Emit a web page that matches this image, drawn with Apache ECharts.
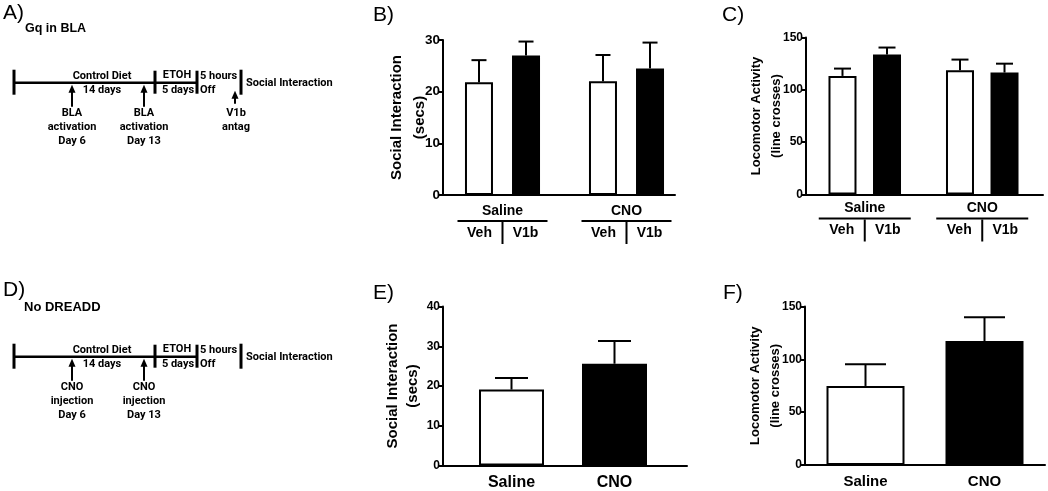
<!DOCTYPE html>
<html>
<head>
<meta charset="utf-8">
<script src="https://cdn.jsdelivr.net/npm/echarts@6/dist/echarts.min.js"></script>
<style>
  html, body { margin: 0; padding: 0; background: #fff; }
  #chart { width: 1048px; height: 491px; }
</style>
</head>
<body>
<div id="chart"></div>
<script>
// Gq in BLA (panels B, C)
const groupLabels = ["Saline", "CNO"];
const treatLabels = ["Veh", "V1b"];
const socialVeh = [21.8, 22.0];
const socialVehSem = [4.3, 5.1];
const socialV1b = [27.0, 24.5];
const socialV1bSem = [2.7, 5.0];
const locoVeh = [113.3, 118.7];
const locoVehSem = [7.0, 10.2];
const locoV1b = [133.7, 116.5];
const locoV1bSem = [6.7, 8.5];

// No DREADD (panels E, F)
const noDreaddGroups = ["Saline", "CNO"];
const noDreaddSocial = [19.1, 25.6];
const noDreaddSocialSem = [2.9, 5.7];
const noDreaddLoco = [74.8, 117.3];
const noDreaddLocoSem = [20.6, 22.6];

// tick labels
const socialTicksB = [0, 10, 20, 30];
const socialTicksE = [0, 10, 20, 30, 40];
const locoTicks = [0, 50, 100, 150];

const FONT = "Liberation Sans, Arial, sans-serif";
const DIAG_FONT = "bold 11px Roboto";

const option = {
  animation: false,
  backgroundColor: "#fff",
  textStyle: { fontFamily: FONT, color: "#000" },
  grid: [],
  xAxis: [],
  yAxis: [],
  series: [],
  graphic: [],
};

function addPanel(p) {
  const gi = option.grid.length;
  option.grid.push({ left: p.left, top: p.top, width: p.width, height: p.height, outerBoundsMode: "none" });
  option.grid.push({ left: p.innerLeft, top: p.top, width: p.innerWidth, height: p.height, outerBoundsMode: "none" });

  const min = p.ticks[0];
  const max = p.ticks[p.ticks.length - 1];
  const interval = p.ticks[1] - p.ticks[0];

  const xi = option.xAxis.length;
  option.xAxis.push({
    gridIndex: gi, type: "value", min: 0, max: 1,
    axisLine: { show: true, onZero: false, lineStyle: { color: "#000", width: 2 } },
    axisTick: { show: false }, axisLabel: { show: false }, splitLine: { show: false },
  });
  option.xAxis.push({
    gridIndex: gi + 1, type: "category", data: p.categories,
    axisLine: { show: false }, axisTick: { show: false }, splitLine: { show: false },
    axisLabel: Object.assign({ interval: 0, color: "#000" }, p.catLabel),
  });

  const yi = option.yAxis.length;
  option.yAxis.push({
    gridIndex: gi, type: "value", min, max, interval,
    name: p.name, nameLocation: "middle", nameRotate: 90, nameGap: p.nameGap, nameMoveOverlap: false,
    nameTextStyle: { fontSize: p.nameFont, fontWeight: "bold", color: "#000", lineHeight: p.nameLine },
    axisLine: { show: true, lineStyle: { color: "#000", width: 2 } },
    axisTick: { show: true, length: 4, lineStyle: { color: "#000", width: 2 } },
    axisLabel: { color: "#000", fontWeight: "bold", fontSize: p.tickFont, margin: 3 },
    splitLine: { show: false },
  });
  option.yAxis.push({ gridIndex: gi + 1, type: "value", min, max, show: false });

  const n = p.bars.length;
  const step = p.barWidth * (1 + parseFloat(p.barGap) / 100);
  p.bars.forEach((b) => {
    option.series.push({
      type: "bar", xAxisIndex: xi + 1, yAxisIndex: yi + 1,
      barWidth: p.barWidth, barGap: p.barGap,
      itemStyle: { borderColor: "#000", borderWidth: 2 },
      data: b.values.map((v, j) => ({ value: v, itemStyle: { color: b.colors[j] } })),
    });
  });
  p.bars.forEach((b, i) => {
    const offset = (i - (n - 1) / 2) * step;
    option.series.push({
      type: "custom", xAxisIndex: xi + 1, yAxisIndex: yi + 1, z: 3,
      encode: { x: 0, y: 1 },
      data: b.values.map((v, j) => [j, v, b.sem[j]]),
      renderItem: (params, api) => {
        const base = api.coord([api.value(0), api.value(1)]);
        const top = api.coord([api.value(0), api.value(1) + api.value(2)]);
        const x = base[0] + offset;
        const h = p.capWidth / 2;
        return {
          type: "group",
          children: [
            { type: "line", shape: { x1: x, y1: base[1], x2: x, y2: top[1] }, style: { stroke: "#000", lineWidth: 2 } },
            { type: "line", shape: { x1: x - h, y1: top[1], x2: x + h, y2: top[1] }, style: { stroke: "#000", lineWidth: 2 } },
          ],
        };
      },
    });
  });
}

function groupedLabel(margin, ruleWidth) {
  return {
    margin,
    formatter: (v) => `{g|${v}}\n{rule| }\n{t|${treatLabels[0]}}{sep| }{t|${treatLabels[1]}}`,
    rich: {
      g: { fontSize: 14, fontWeight: "bold", lineHeight: 18, color: "#000" },
      rule: { width: ruleWidth, height: 2, lineHeight: 2, fontSize: 1, backgroundColor: "#000" },
      t: { fontSize: 14, fontWeight: "bold", width: 44, align: "center", lineHeight: 22, color: "#000" },
      sep: { width: 2, height: 22, lineHeight: 22, fontSize: 1, backgroundColor: "#000" },
    },
  };
}

// B
addPanel({
  left: 443, top: 40, width: 232, height: 155, innerLeft: 440.5, innerWidth: 248,
  ticks: socialTicksB, tickFont: 13.5,
  name: "Social Interaction\n(secs)", nameFont: 15, nameLine: 23, nameGap: 12,
  categories: groupLabels, barWidth: 28, barGap: "68%", capWidth: 15,
  bars: [
    { values: socialVeh, sem: socialVehSem, colors: ["#fff", "#fff"] },
    { values: socialV1b, sem: socialV1bSem, colors: ["#000", "#000"] },
  ],
  catLabel: groupedLabel(7, 90),
});
// C
addPanel({
  left: 806, top: 37.5, width: 237, height: 157, innerLeft: 806, innerWidth: 235,
  ticks: locoTicks, tickFont: 12,
  name: "Locomotor Activity\n(line crosses)", nameFont: 13, nameLine: 20, nameGap: 20,
  categories: groupLabels, barWidth: 28, barGap: "59%", capWidth: 17,
  bars: [
    { values: locoVeh, sem: locoVehSem, colors: ["#fff", "#fff"] },
    { values: locoV1b, sem: locoV1bSem, colors: ["#000", "#000"] },
  ],
  catLabel: groupedLabel(5, 92),
});
// E
addPanel({
  left: 443, top: 306.5, width: 244, height: 159, innerLeft: 460, innerWidth: 206,
  ticks: socialTicksE, tickFont: 12,
  name: "Social Interaction\n(secs)", nameFont: 15, nameLine: 20, nameGap: 20,
  categories: noDreaddGroups, barWidth: 65, barGap: "0%", capWidth: 33,
  bars: [{ values: noDreaddSocial, sem: noDreaddSocialSem, colors: ["#fff", "#000"] }],
  catLabel: { margin: 9, fontSize: 16, fontWeight: "bold" },
});
// F
addPanel({
  left: 805, top: 306.5, width: 240, height: 158.5, innerLeft: 806, innerWidth: 238,
  ticks: locoTicks, tickFont: 12,
  name: "Locomotor Activity\n(line crosses)", nameFont: 13, nameLine: 20, nameGap: 20,
  categories: noDreaddGroups, barWidth: 78, barGap: "0%", capWidth: 41,
  bars: [{ values: noDreaddLoco, sem: noDreaddLocoSem, colors: ["#fff", "#000"] }],
  catLabel: { margin: 9, fontSize: 15, fontWeight: "bold" },
});

// panel letters and titles
function txt(text, x, y, font, align, va) {
  return {
    type: "text",
    style: { text, x, y, font, fill: "#000", align: align || "left", verticalAlign: va || "middle",
      textAlign: align || "left", textVerticalAlign: va || "middle", lineHeight: 14 },
  };
}
function seg(x1, y1, x2, y2, w) {
  return { type: "line", shape: { x1, y1, x2, y2 }, style: { stroke: "#000", lineWidth: w } };
}
function arrow(x, yTip, yEnd) {
  return [
    seg(x, yEnd, x, yTip + 6, 2),
    { type: "polygon", shape: { points: [[x, yTip], [x - 3.5, yTip + 8], [x + 3.5, yTip + 8]] }, style: { fill: "#000" } },
  ];
}

const letters = [
  ["A)", 3, 13], ["B)", 373, 15], ["C)", 722, 15],
  ["D)", 3, 290], ["E)", 373, 293], ["F)", 723, 293],
];
letters.forEach(([t, x, y]) => option.graphic.push(txt(t, x, y, "21px " + FONT)));
option.graphic.push(txt("Gq in BLA", 25, 29, "bold 12.5px " + FONT));
option.graphic.push(txt("No DREADD", 24, 307, "bold 13px " + FONT));

// experiment timelines (schematics)
function timeline(y, arrowText, antag) {
  const g = option.graphic;
  g.push(seg(14, y, 197, y, 2.5));
  g.push(seg(14, y - 13, 14, y + 12, 3));
  g.push(seg(155, y - 12, 155, y + 11, 3));
  g.push(seg(197, y - 12, 197, y + 11, 3));
  g.push(seg(241, y - 13, 241, y + 12, 3));
  g.push(txt("Control Diet", 102, y - 6, DIAG_FONT, "center"));
  g.push(txt("14 days", 102, y + 8, DIAG_FONT, "center"));
  g.push(txt("ETOH", 177, y - 7, DIAG_FONT, "center"));
  g.push(txt("5 days", 178, y + 7.5, DIAG_FONT, "center"));
  g.push(txt("5 hours", 200, y - 6, DIAG_FONT, "left"));
  g.push(txt("Off", 200, y + 8, DIAG_FONT, "left"));
  g.push(txt("Social Interaction", 246, y + 1, DIAG_FONT, "left"));
  [[72, arrowText[0]], [144, arrowText[1]]].forEach(([x, t]) => {
    arrow(x, y + 2, y + 24).forEach((e) => g.push(e));
    g.push(txt(t, x, y + 24, DIAG_FONT, "center", "top"));
  });
  if (antag) {
    arrow(235, y + 8, y + 21).forEach((e) => g.push(e));
    g.push(txt(antag, 236, y + 24, DIAG_FONT, "center", "top"));
  }
}
timeline(82.7, ["BLA\nactivation\nDay 6", "BLA\nactivation\nDay 13"], "V1b\nantag");
timeline(356.7, ["CNO\ninjection\nDay 6", "CNO\ninjection\nDay 13"], null);

const chart = echarts.init(document.getElementById("chart"));
chart.setOption(option);
window.addEventListener("resize", () => chart.resize());
</script>
</body>
</html>
